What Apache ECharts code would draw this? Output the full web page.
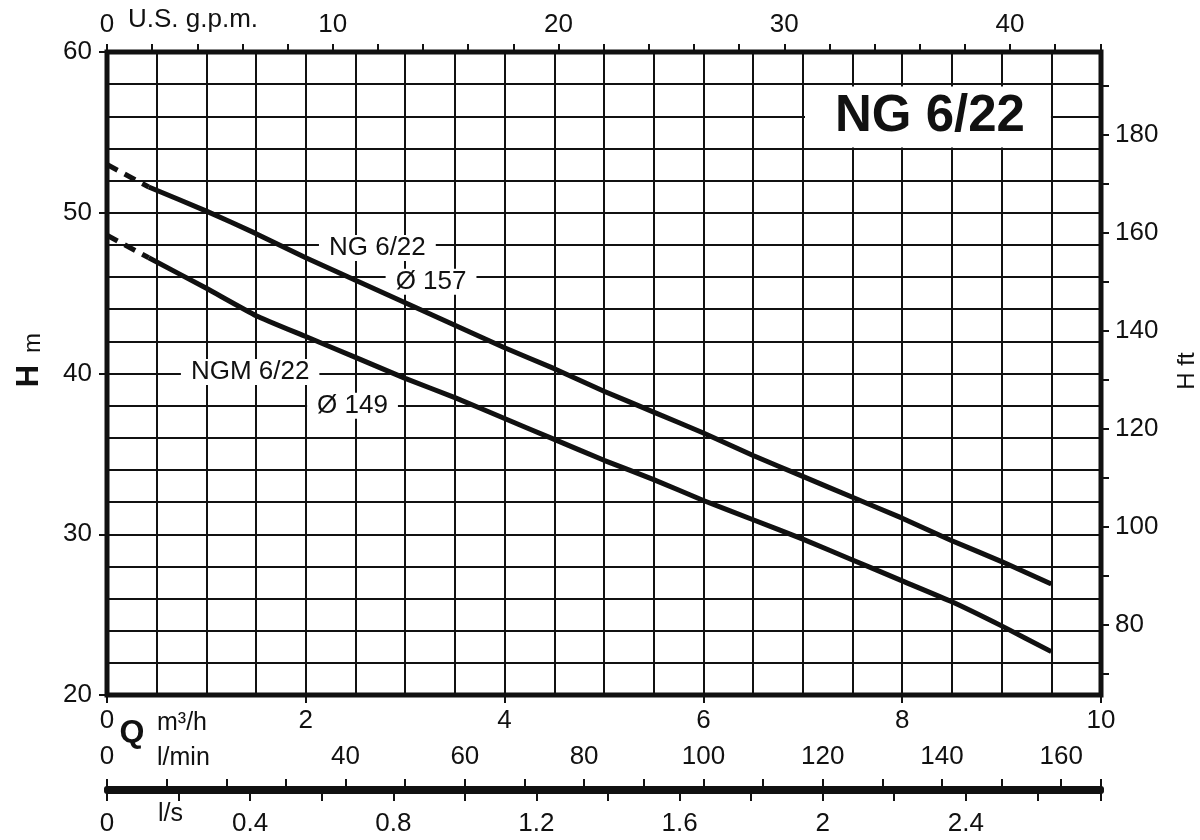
<!DOCTYPE html>
<html>
<head>
<meta charset="utf-8">
<script src="https://cdn.jsdelivr.net/npm/echarts@6/dist/echarts.min.js"></script>
<style>
html, body { margin: 0; padding: 0; background: #fff; }
#container { width: 1200px; height: 840px; }
</style>
</head>
<body>
<div id="container"></div>
<script>
// flow (m3/h) and head (m)
var flowM3h = [0.42, 1, 1.5, 2, 2.5, 3, 3.5, 4, 4.5, 5, 5.5, 6, 6.5, 7, 7.5, 8, 8.5, 9, 9.5];
var headNG = [51.6, 50.1, 48.7, 47.2, 45.8, 44.4, 43.0, 41.6, 40.3, 38.9, 37.6, 36.3, 34.9, 33.6, 32.3, 31.0, 29.6, 28.3, 26.9];
var headNGM = [47.2, 45.3, 43.6, 42.3, 41.0, 39.7, 38.5, 37.2, 35.9, 34.6, 33.4, 32.1, 30.9, 29.7, 28.4, 27.1, 25.8, 24.3, 22.7];
// dashed part near shut-off
var shutoffFlow = [0, 0.42];
var shutoffNG = [53.0, 51.6];
var shutoffNGM = [48.6, 47.2];

// tick labels of every scale
var m3hLabels = [0, 2, 4, 6, 8, 10];
var headLabels = [20, 30, 40, 50, 60];
var gpmLabels = [0, 10, 20, 30, 40];
var ftLabels = [80, 100, 120, 140, 160, 180];
var lminLabels = [0, 40, 60, 80, 100, 120, 140, 160];
var lsLabels = [0, 0.4, 0.8, 1.2, 1.6, 2, 2.4];

// unit conversions
var GPM_PER_M3H = 4.40287;
var LMIN_PER_M3H = 1000 / 60;
var LS_PER_M3H = 1 / 3.6;
var FT_PER_M = 3.28084;

// plot box
var plotTop = 52, plotBottom = 695, plotLeft = 107, plotRight = 1101;
var hMin = 20, hMax = 60, qMax = 10;
var pxPerM = (plotBottom - plotTop) / (hMax - hMin);
// grid for the feet scale, placed so 70..190 ft lines up with the metre scale
var ftTop = plotTop + (hMax - 190 / FT_PER_M) * pxPerM;
var ftBottom = plotBottom - (70 / FT_PER_M - hMin) * pxPerM;

var FONT = '"Liberation Sans", Arial, Helvetica, sans-serif';
var INK = '#111';

function pickLabels(list) {
	return function(v) {
		for (var i = 0; i < list.length; i++) {
			if (Math.abs(list[i] - v) < 1e-6) return String(list[i]);
		}
		return '';
	};
}

function zip(a, b) {
	var out = [];
	for (var i = 0; i < a.length; i++) out.push([a[i], b[i]]);
	return out;
}

var labelStyle = { color: INK, fontSize: 26, fontFamily: FONT };
var tickStyle = { color: INK, width: 2 };
var gridLine = { color: INK, width: 2 };

var myChart = echarts.init(document.getElementById('container'));

var option = {
	backgroundColor: '#fff',
	animation: false,
	title: {
		text: 'NG 6/22',
		left: 805,
		top: 87,
		backgroundColor: '#fff',
		padding: [5, 26, 5, 30],
		textStyle: { fontSize: 51, fontWeight: 'bold', fontFamily: FONT, color: INK, lineHeight: 50 }
	},
	grid: [
		{ left: plotLeft, right: 1200 - plotRight, top: plotTop, bottom: 840 - plotBottom,
		  show: true, borderColor: INK, borderWidth: 5, backgroundColor: 'transparent' },
		{ left: plotLeft, right: 1200 - plotRight, top: 789, height: 2 },
		{ left: plotLeft, right: 1200 - plotRight, top: ftTop, bottom: 840 - ftBottom }
	],
	xAxis: [
		{
			gridIndex: 0, type: 'value', position: 'bottom', min: 0, max: qMax, interval: 2,
			axisLine: { show: false, onZero: false },
			axisTick: { show: true, length: 8, lineStyle: tickStyle },
			axisLabel: Object.assign({ margin: 13, formatter: pickLabels(m3hLabels) }, labelStyle),
			splitLine: { show: true, lineStyle: gridLine },
			minorTick: { show: false, splitNumber: 4 },
			minorSplitLine: { show: true, lineStyle: gridLine }
		},
		{
			gridIndex: 0, type: 'value', position: 'top', min: 0, max: qMax * GPM_PER_M3H, interval: 2,
			axisLine: { show: false, onZero: false },
			axisTick: { show: true, length: 8, lineStyle: tickStyle },
			axisLabel: Object.assign({ margin: 14, formatter: pickLabels(gpmLabels) }, labelStyle),
			splitLine: { show: false }
		},
		{
			gridIndex: 1, type: 'value', position: 'top', min: 0, max: qMax * LMIN_PER_M3H, interval: 10,
			axisLine: { show: true, onZero: false, lineStyle: { color: INK, width: 6 } },
			axisTick: { show: true, length: 10, lineStyle: tickStyle },
			axisLabel: Object.assign({ margin: 19, formatter: pickLabels(lminLabels) }, labelStyle),
			splitLine: { show: false }
		},
		{
			gridIndex: 1, type: 'value', position: 'bottom', min: 0, max: qMax * LS_PER_M3H, interval: 0.2,
			axisLine: { show: true, onZero: false, lineStyle: { color: INK, width: 6 } },
			axisTick: { show: true, length: 10, lineStyle: tickStyle },
			axisLabel: Object.assign({ margin: 20, formatter: pickLabels(lsLabels) }, labelStyle),
			splitLine: { show: false }
		},
		{ gridIndex: 2, type: 'value', min: 0, max: qMax, show: false }
	],
	yAxis: [
		{
			gridIndex: 0, type: 'value', position: 'left', min: hMin, max: hMax, interval: 10,
			axisLine: { show: false, onZero: false },
			axisTick: { show: true, length: 8, lineStyle: tickStyle },
			axisLabel: Object.assign({ margin: 15, formatter: pickLabels(headLabels) }, labelStyle),
			splitLine: { show: true, lineStyle: gridLine },
			minorTick: { show: false, splitNumber: 5 },
			minorSplitLine: { show: true, lineStyle: gridLine }
		},
		{ gridIndex: 1, type: 'value', min: 0, max: 1, show: false },
		{
			gridIndex: 2, type: 'value', position: 'right', min: 70, max: 190, interval: 10,
			axisLine: { show: false, onZero: false },
			axisTick: { show: true, length: 8, lineStyle: tickStyle },
			axisLabel: Object.assign({ margin: 14, formatter: pickLabels(ftLabels) }, labelStyle),
			splitLine: { show: false }
		}
	],
	series: [
		{
			name: 'NG 6/22', type: 'line', xAxisIndex: 0, yAxisIndex: 0, symbol: 'none', smooth: 0.15, z: 3,
			lineStyle: { color: INK, width: 5 }, data: zip(flowM3h, headNG)
		},
		{
			name: 'NG 6/22 shut-off', type: 'line', xAxisIndex: 0, yAxisIndex: 0, symbol: 'none', z: 3,
			lineStyle: { color: INK, width: 5, type: [12, 8] }, data: zip(shutoffFlow, shutoffNG)
		},
		{
			name: 'NGM 6/22', type: 'line', xAxisIndex: 0, yAxisIndex: 0, symbol: 'none', smooth: 0.15, z: 3,
			lineStyle: { color: INK, width: 5 }, data: zip(flowM3h, headNGM)
		},
		{
			name: 'NGM 6/22 shut-off', type: 'line', xAxisIndex: 0, yAxisIndex: 0, symbol: 'none', z: 3,
			lineStyle: { color: INK, width: 5, type: [12, 8] }, data: zip(shutoffFlow, shutoffNGM)
		}
	]
};
myChart.setOption(option);

// curve annotations anchored in data coordinates (m3/h, m)
var notes = [
	{ text: 'NG 6/22', at: [2.72, 47.8] },
	{ text: 'Ø 157', at: [3.26, 45.7] },
	{ text: 'NGM 6/22', at: [1.44, 40.1] },
	{ text: 'Ø 149', at: [2.47, 38.0] }
];
var graphics = notes.map(function(n) {
	var p = myChart.convertToPixel({ gridIndex: 0 }, n.at);
	return {
		type: 'text', x: p[0], y: p[1], z: 2,
		style: { text: n.text, font: '26px ' + FONT, fill: INK, align: 'center', verticalAlign: 'middle',
			backgroundColor: '#fff', padding: [0, 10] }
	};
});

// axis names
graphics.push(
	{ type: 'text', x: 128, y: 20, z: 10, style: { text: 'U.S. g.p.m.', font: '26px ' + FONT, fill: INK, align: 'left', verticalAlign: 'middle' } },
	{ type: 'text', x: 132, y: 733, z: 10, style: { text: 'Q', font: 'bold 32px ' + FONT, fill: INK, align: 'center', verticalAlign: 'middle' } },
	{ type: 'text', x: 157, y: 723, z: 10, style: { text: 'm³/h', font: '25px ' + FONT, fill: INK, align: 'left', verticalAlign: 'middle' } },
	{ type: 'text', x: 157, y: 758, z: 10, style: { text: 'l/min', font: '25px ' + FONT, fill: INK, align: 'left', verticalAlign: 'middle' } },
	{ type: 'text', x: 158, y: 814, z: 10, style: { text: 'l/s', font: '25px ' + FONT, fill: INK, align: 'left', verticalAlign: 'middle' } },
	{ type: 'text', x: 29, y: 376, rotation: Math.PI / 2, z: 10, style: { text: 'H', font: 'bold 31px ' + FONT, fill: INK, align: 'center', verticalAlign: 'middle' } },
	{ type: 'text', x: 33, y: 343, rotation: Math.PI / 2, z: 10, style: { text: 'm', font: '24px ' + FONT, fill: INK, align: 'center', verticalAlign: 'middle' } },
	{ type: 'text', x: 1187, y: 371, rotation: Math.PI / 2, z: 10, style: { text: 'H ft', font: '24px ' + FONT, fill: INK, align: 'center', verticalAlign: 'middle' } }
);
myChart.setOption({ graphic: graphics });
</script>
</body>
</html>
